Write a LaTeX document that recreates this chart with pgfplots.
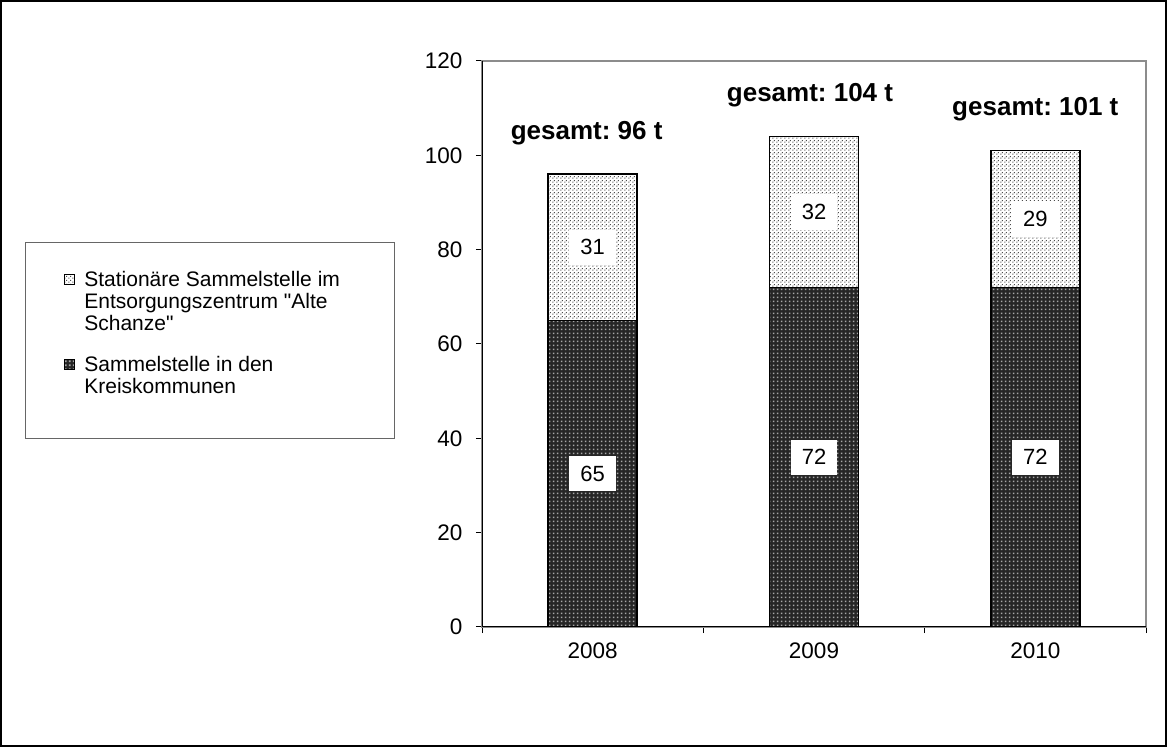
\documentclass[border=0pt]{standalone}
\usepackage{fontspec}
\setmainfont{Liberation Sans}[Ligatures=TeXOff]
\usepackage{pgfplots}
\pgfplotsset{compat=1.18}
\usetikzlibrary{patterns.meta}
\frenchspacing
\newcommand{\nf}{\fontsize{21}{22}\selectfont}
\newcommand{\vf}{\fontsize{22}{24}\selectfont}
\newcommand{\tf}{\fontsize{22.5}{24}\selectfont}
\newcommand{\bfl}{\bfseries\fontsize{26}{28}\selectfont}
\pgfdeclarepattern{
  name=darkdots, type=uncolored,
  bottom left={\pgfpoint{0pt}{0pt}}, top right={\pgfpoint{4pt}{4pt}},
  tile size={\pgfpoint{4pt}{4pt}},
  code={\pgfpathrectangle{\pgfpoint{1pt}{1pt}}{\pgfpoint{2pt}{2pt}}\pgfusepath{fill}}
}
\pgfdeclarepattern{
  name=lightdots, type=uncolored,
  bottom left={\pgfpoint{0pt}{0pt}}, top right={\pgfpoint{4pt}{4pt}},
  tile size={\pgfpoint{4pt}{4pt}},
  code={\pgfpathrectangle{\pgfpoint{0.4pt}{0.4pt}}{\pgfpoint{1.3pt}{1.3pt}}
        \pgfpathrectangle{\pgfpoint{2.4pt}{2.4pt}}{\pgfpoint{1.3pt}{1.3pt}}\pgfusepath{fill}}
}
\pgfplotsset{
  common/.style={at={(482pt,120pt)}, anchor=south west,
    scale only axis, width=664pt, height=566pt,
    xmin=-0.5, xmax=2.5, ymin=0, ymax=120},
}
\begin{document}
\begin{tikzpicture}[x=1pt,y=1pt]
\useasboundingbox (0,0) rectangle (1167,747);
\draw[line width=1.6pt] (0.8,0.8) rectangle (1166.2,746.2);
\begin{axis}[
  common,
  ybar stacked, bar width=89pt,
  ytick={0,20,...,120}, ytick pos=left,
  xtick={-0.5,0.5,1.5,2.5}, xticklabels={}, xtick pos=bottom,
  extra x ticks={0,1,2}, extra x tick labels={2008,2009,2010},
  extra x tick style={major tick length=0pt},
  tick align=outside, major tick length=6pt,
  tick style={black, line width=1pt},
  axis line style={draw=black!45, line width=1.2pt},
  /pgf/number format/assume math mode=true,
  ticklabel style={font=\tf},
  yticklabel style={xshift=-10pt},
  xticklabel style={yshift=-12pt},
  legend style={at={(-0.688,0.680)}, anchor=north west,
    draw=black!60, line width=0.8pt,
    inner xsep=38pt, inner ysep=26pt,
    font=\nf, row sep=20pt, /tikz/column sep=8pt,
    cells={anchor=north west, align=left, inner xsep=0pt, inner ysep=0pt}},
  reverse legend,
  legend image code/.code={\draw[#1, line width=0.8pt] (0pt,-16pt) rectangle (10pt,-6pt);},
]
\addplot[draw=black, line width=1.6pt, fill=black!85,
  postaction={pattern={darkdots}, pattern color=black!35}]
  coordinates {(0,65) (1,72) (2,72)};
\addlegendentry{Sammelstelle in den\\Kreiskommunen\\[-6pt]\mbox{}}
\addplot[draw=black, line width=1.6pt, fill=white,
  postaction={pattern={lightdots}, pattern color=black!70}]
  coordinates {(0,31) (1,32) (2,29)};
\addlegendentry{Stationäre Sammelstelle im\hspace*{14pt}\\Entsorgungszentrum "Alte\\Schanze"}
\draw[black, line width=1.2pt] (rel axis cs:0,1) -- (rel axis cs:0,0) -- (rel axis cs:1,0);
\node[anchor=base, font=\bfl, xshift=-6pt, yshift=35pt] at (axis cs:0,96) {gesamt: 96 t};
\node[anchor=base, font=\bfl, xshift=-4pt, yshift=35pt] at (axis cs:1,104) {gesamt: 104 t};
\node[anchor=base, font=\bfl, yshift=35pt] at (axis cs:2,101) {gesamt: 101 t};
\end{axis}
\begin{axis}[common, hide axis]
\addplot[only marks, mark=*, mark size=0pt, draw opacity=0, fill opacity=0,
  nodes near coords, point meta=explicit symbolic,
  nodes near coords style={anchor=center, fill=white, fill opacity=1, text opacity=1,
    inner xsep=11pt, inner ysep=10pt, font=\vf}]
  coordinates {(0,32.5)[65] (1,36)[72] (2,36)[72] (0,80.5)[31] (1,88)[32] (2,86.5)[29]};
\end{axis}
\end{tikzpicture}
\end{document}
